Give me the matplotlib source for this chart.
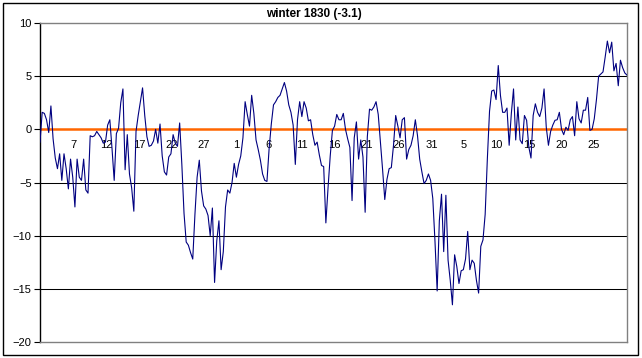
import numpy as np
import matplotlib
matplotlib.use("Agg")
import matplotlib.pyplot as plt
from matplotlib.patches import Rectangle

plt.rcParams['font.family'] = ['Liberation Sans', 'DejaVu Sans']

# three readings a day, Dec 1 .. Feb 28
dec_obs = [-1.2, 1.6, 1.5, 0.9, -0.3, 2.2, -0.9, -2.7, -3.7, -2.3,
           -4.8, -2.3, -3.7, -5.6, -2.8, -4.5, -7.3, -2.8, -4.5, -4.8,
           -2.8, -5.7, -6.0, -0.6, -0.7, -0.6, -0.2, -0.5, -0.8, -1.3,
           -1.2, 0.4, 0.9, -1.8, -4.8, -0.4, 0.1, 2.5, 3.8, -3.8,
           -0.5, -4.2, -5.5, -7.7, -0.2, 1.3, 2.6, 3.9, 1.3, -0.7,
           -1.6, -1.5, -1.1, 0.0, -1.3, 0.5, -2.5, -4.0, -4.3, -2.6,
           -2.3, -0.5, -1.3, -1.6, 0.6, -3.3, -7.9, -10.6, -10.9, -11.6,
           -12.2, -8.0, -4.5, -2.9, -5.8, -7.2, -7.5, -8.1, -10.0, -7.4,
           -14.4, -10.5, -8.6, -13.2, -11.5, -7.3, -5.7, -6.0, -5.0, -3.2,
           -4.5, -3.3, -2.5]
jan_obs = [-0.8, 2.6, 1.4, 0.3, 3.2, 1.5, -1.0, -1.9, -2.9, -4.2,
           -4.8, -4.9, -1.8, 0.5, 2.3, 2.6, 3.0, 3.2, 3.8, 4.4,
           3.6, 2.3, 1.6, 0.4, -3.3, 0.9, 2.6, 1.2, 2.6, 2.0,
           0.8, 0.9, -0.5, -1.5, -1.2, -2.4, -3.4, -3.5, -8.8, -5.5,
           -2.5, -0.1, 0.3, 1.4, 0.9, 0.9, 1.5, 0.0, -0.9, -1.7,
           -6.7, -0.8, 0.7, -2.8, -1.0, -2.6, -7.8, -0.7, 1.9, 1.8,
           2.1, 2.6, 1.4, -1.2, -3.8, -6.6, -4.7, -3.7, -3.6, -1.5,
           1.3, 0.3, -0.8, 0.9, 1.1, -2.8, -1.9, -1.5, -0.6, 0.9,
           -0.6, -2.8, -4.0, -5.1, -4.8, -4.2, -4.8, -6.5, -10.5, -15.2,
           -8.6, -6.1, -11.5]
feb_obs = [-6.2, -12.3, -14.2, -16.5, -11.8, -12.9, -14.5, -13.3, -13.2, -12.2,
           -9.6, -13.2, -12.3, -12.6, -14.2, -15.4, -11.0, -10.4, -8.0, -2.8,
           1.7, 3.6, 3.7, 2.8, 6.0, 3.2, 1.6, 1.6, 2.0, -1.5,
           1.5, 3.8, -1.0, 2.1, -1.0, -1.35, 1.3, 0.85, -1.65, -2.7,
           1.3, 2.4, 1.6, 1.2, 2.0, 3.8, 0.2, -1.5, -0.2, 0.4,
           0.85, 0.9, 1.6, 0.0, -0.5, 0.2, -0.1, 0.9, 1.2, -0.6,
           2.6, 1.0, 0.6, 1.8, 1.8, 3.0, -0.1, 0.0, 1.0, 2.8,
           5.0, 5.2, 5.4, 6.8, 8.3, 7.2, 8.2, 5.5, 6.2, 4.1,
           6.5, 5.8, 5.3, 5.1]

day_labels = ['7', '12', '17', '22', '27', '1', '6', '11', '16', '21',
              '26', '31', '5', '10', '15', '20', '25']
title = 'winter 1830 (-3.1)'

temps = np.array(dec_obs + jan_obs + feb_obs)
x = np.arange(len(temps))

W, H = 642, 358
fig = plt.figure(figsize=(W / 100, H / 100), dpi=100)
ax = fig.add_axes([40 / W, 1 - 342 / H, 587 / W, 319 / H])

for v in (5, -5, -10, -15):
    ax.axhline(v, color='black', lw=0.75, zorder=1)
ax.axhline(0, color='#ff6600', lw=1.8, zorder=2)
ax.plot(x, temps, color='#000080', lw=0.8, zorder=3)

ax.set_xlim(0, len(temps) - 1)
ax.set_ylim(-20, 10)
ax.set_yticks(range(-20, 11, 5))
ax.set_xticks([])
ax.tick_params(axis='y', direction='out', length=4, width=0.8,
               labelsize=8, pad=2)

for s in ('top', 'right', 'bottom'):
    ax.spines[s].set_color('#808080')
    ax.spines[s].set_linewidth(1)
ax.spines['left'].set_color('black')
ax.spines['left'].set_linewidth(1)

# category labels every 5 days, sitting just under the zero line
for k, lab in enumerate(day_labels):
    ax.text(15.5 + 14.9 * k, -1.5, lab, ha='center', va='center',
            fontsize=8, zorder=1)

fig.text(314 / W, 1 - 14 / H, title, ha='center', va='center',
         fontsize=8.5, fontweight='bold')

fig.add_artist(Rectangle((3 / W, 3 / H), 635 / W, 352 / H,
                         transform=fig.transFigure, fill=False,
                         ec='black', lw=1))

fig.savefig('out.png', dpi=100)
